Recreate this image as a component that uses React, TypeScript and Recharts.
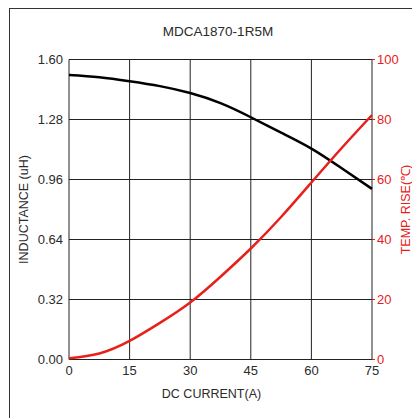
import { LineChart, Line, XAxis, YAxis, CartesianGrid } from 'recharts';

const current = [0, 7.5, 15, 22.5, 30, 37.5, 45, 52.5, 60, 67.5, 75];
const inductance = [1.517, 1.505, 1.484, 1.458, 1.421, 1.367, 1.292, 1.21, 1.125, 1.02, 0.91];
const tempRise = [0.4, 2.0, 6.2, 12.2, 19.0, 27.6, 37.0, 47.5, 59.0, 70.5, 81.5];

const xTicks = [0, 15, 30, 45, 60, 75];
const indTicks = [0, 0.32, 0.64, 0.96, 1.28, 1.6];
const tempTicks = [0, 20, 40, 60, 80, 100];

const RED = '#e8201c';
const TXT = '#2b2b2b';

export default function App() {
  const data = current.map((c, i) => ({ c, ind: inductance[i], temp: tempRise[i] }));

  return (
    <div style={{ position: 'absolute', left: 0, top: 0, width: 412, height: 418, background: '#fff', fontFamily: 'Liberation Sans, Arial, sans-serif' }}>
      <div style={{ position: 'absolute', left: 9, top: 8, right: 0, bottom: 0, borderTop: '1.5px solid #333', borderLeft: '1.5px solid #333' }} />
      <div style={{ position: 'absolute', left: 118, width: 200, top: 24, textAlign: 'center', fontSize: 13.5, color: TXT }}>
        MDCA1870-1R5M
      </div>
      <div style={{ position: 'absolute', left: 0, top: 0 }}>
        <LineChart width={412} height={418} data={data} margin={{ top: 59.5, right: 0, bottom: 18.5, left: 8 }}>
          <CartesianGrid yAxisId="left" stroke="#222" strokeWidth={1} />
          <XAxis
            dataKey="c"
            type="number"
            domain={[0, 75]}
            ticks={xTicks}
            height={40}
            axisLine={false}
            tickLine={false}
            tickSize={4}
            tickMargin={2}
            tick={{ fontSize: 13, fill: TXT }}
            label={{ value: 'DC CURRENT(A)', position: 'insideBottom', offset: 2, dx: -9, style: { fontSize: 12.5, fill: TXT } }}
          />
          <YAxis
            yAxisId="left"
            domain={[0, 1.6]}
            ticks={indTicks}
            width={61}
            axisLine={false}
            tickLine={false}
            tickSize={4}
            tickMargin={2}
            tickFormatter={v => Number(v).toFixed(2)}
            tick={{ fontSize: 13, fill: TXT }}
            label={{ value: 'INDUCTANCE (uH)', angle: -90, position: 'insideLeft', offset: 16, style: { textAnchor: 'middle', fontSize: 12.5, fill: TXT } }}
          />
          <YAxis
            yAxisId="right"
            orientation="right"
            domain={[0, 100]}
            ticks={tempTicks}
            width={40}
            axisLine={false}
            tickLine={{ stroke: RED }}
            tickSize={3}
            tickMargin={2}
            tick={{ fontSize: 13, fill: RED }}
            label={{ value: 'TEMP. RISE(℃)', angle: -90, position: 'insideRight', offset: 6, style: { textAnchor: 'middle', fontSize: 12.5, fill: RED } }}
          />
          <Line yAxisId="left" type="natural" dataKey="ind" stroke="#000" strokeWidth={2.5} dot={false} isAnimationActive={false} />
          <Line yAxisId="right" type="natural" dataKey="temp" stroke={RED} strokeWidth={2.5} dot={false} isAnimationActive={false} />
        </LineChart>
      </div>
    </div>
  );
}
